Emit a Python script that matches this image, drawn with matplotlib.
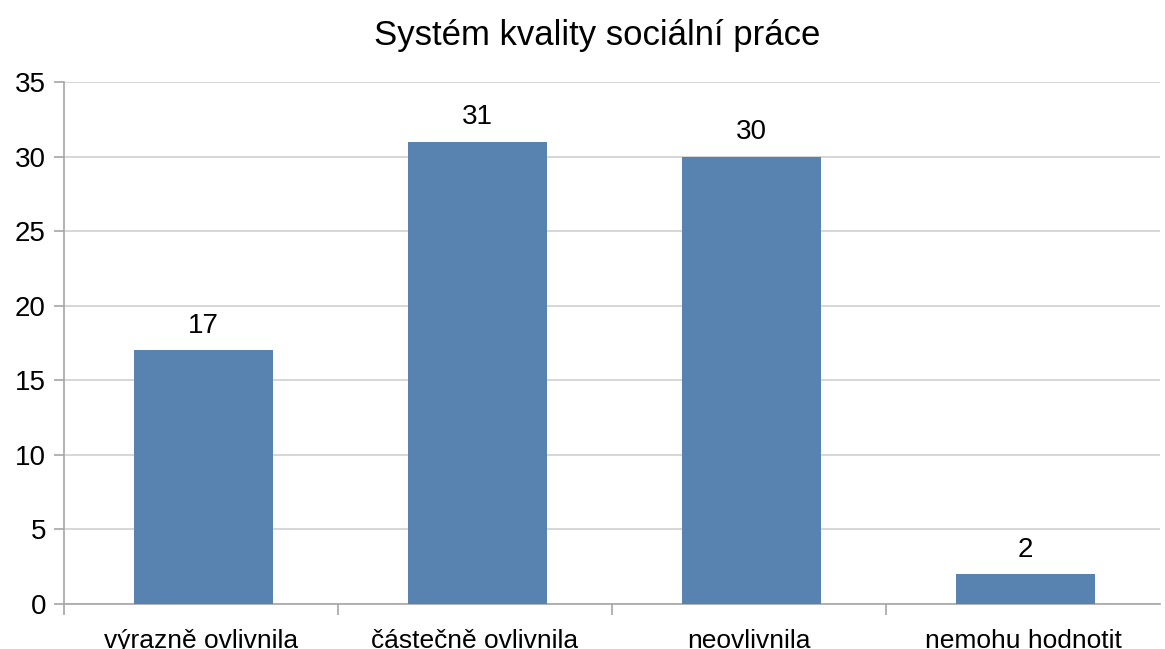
import numpy as np
import matplotlib.pyplot as plt

plt.rcParams['font.family'] = ['Liberation Sans', 'DejaVu Sans']

categories = ["výrazně ovlivnila", "částečně ovlivnila", "neovlivnila", "nemohu hodnotit"]
values = [17, 31, 30, 2]

fig = plt.figure(figsize=(11.65, 6.49), dpi=100)
ax = fig.add_axes([64 / 1165, 1 - 604 / 649, (1160 - 64) / 1165, (604 - 82) / 649])

x = np.arange(len(categories))
bars = ax.bar(x + 0.01, values, width=0.507, color="#5883B1", zorder=3)

for b, v in zip(bars, values):
    ax.text(b.get_x() + b.get_width() / 2, v + 0.75, str(v),
            ha="center", va="bottom", fontsize=20)

ax.set_xlim(-0.5, len(categories) - 0.5)
ax.set_ylim(0, 35)
ax.set_yticks(range(0, 36, 5))
ax.yaxis.grid(True, color="#CFCFCF", linewidth=1.2, zorder=0)

# category boundary ticks on the x axis
ax.set_xticks(np.arange(-0.5, len(categories) - 0.5, 1.0))
ax.set_xticklabels([])
ax.set_xticks(x, minor=True)
ax.set_xticklabels(categories, minor=True, fontsize=19)
ax.tick_params(axis="x", which="minor", length=0, pad=18)
ax.tick_params(axis="x", which="major", length=8, color="#A6A6A6", width=1.2)
ax.tick_params(axis="y", length=7, color="#A6A6A6", width=1.2, labelsize=20, pad=6)

for side in ["top", "right"]:
    ax.spines[side].set_visible(False)
for side in ["left", "bottom"]:
    ax.spines[side].set_color("#A6A6A6")
    ax.spines[side].set_linewidth(1.2)

fig.text(597 / 1165, 1 - 35 / 649, "Systém kvality sociální práce",
         ha="center", va="center", fontsize=25)

fig.savefig("out.png", dpi=100)
